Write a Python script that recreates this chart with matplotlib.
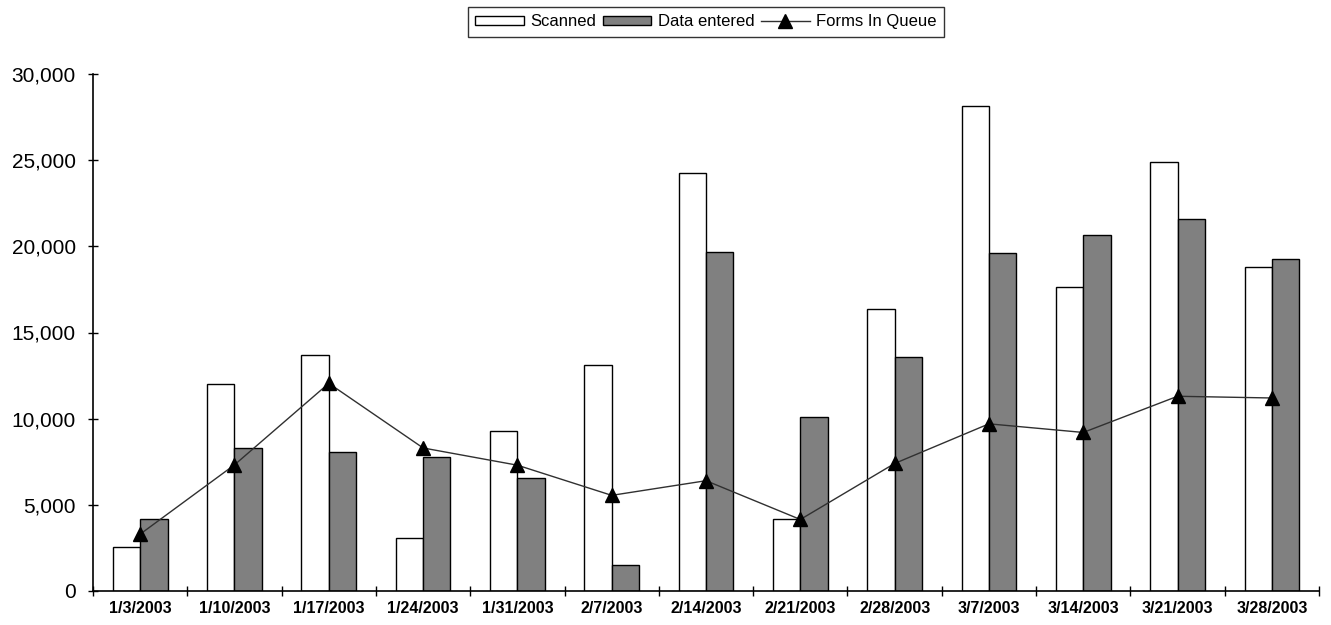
import matplotlib
matplotlib.use("Agg")
import matplotlib.pyplot as plt
import numpy as np
from matplotlib.ticker import FuncFormatter

plt.rcParams['font.family'] = ['Liberation Sans', 'DejaVu Sans']

weeks = ['1/3/2003', '1/10/2003', '1/17/2003', '1/24/2003', '1/31/2003', '2/7/2003',
         '2/14/2003', '2/21/2003', '2/28/2003', '3/7/2003', '3/14/2003', '3/21/2003',
         '3/28/2003']
scanned = [2550, 12000, 13700, 3050, 9300, 13100, 24250, 4180, 16350, 28150, 17650, 24900, 18800]
entered = [4150, 8300, 8050, 7800, 6550, 1520, 19650, 10100, 13550, 19600, 20650, 21600, 19250]
in_queue = [3300, 7320, 12050, 8300, 7300, 5550, 6400, 4150, 7400, 9700, 9200, 11300, 11200]

fig = plt.figure(figsize=(13.31, 6.25), dpi=100)
ax = fig.add_axes([0.0699, 0.0544, 0.9211, 0.8272])

x = np.arange(len(weeks))
w = 0.29
b1 = ax.bar(x - w, scanned, width=w, align='edge', color='white', edgecolor='black',
            linewidth=1.0, label='Scanned', zorder=2)
b2 = ax.bar(x, entered, width=w, align='edge', color='#808080', edgecolor='black',
            linewidth=1.0, label='Data entered', zorder=2)
ln, = ax.plot(x, in_queue, color='#303030', linewidth=1.0, marker='^', markersize=10,
              markerfacecolor='black', markeredgecolor='black', label='Forms In Queue', zorder=3)

ax.set_xlim(-0.5, len(weeks) - 0.5)
ax.set_ylim(0, 30000)
ax.set_yticks(np.arange(0, 30001, 5000))
ax.yaxis.set_major_formatter(FuncFormatter(lambda v, p: f'{int(v):,}'))

ax.set_xticks(x)
ax.set_xticklabels(weeks, fontsize=11.5, fontweight='bold')
ax.set_xticks(np.arange(-0.5, len(weeks), 1), minor=True)
ax.tick_params(axis='x', which='major', length=0, pad=7)
ax.tick_params(axis='x', which='minor', length=7, width=1, direction='inout')
ax.tick_params(axis='y', labelsize=15, length=7, width=1, direction='inout', pad=9)

for s in ['top', 'right']:
    ax.spines[s].set_visible(False)
for s in ['left', 'bottom']:
    ax.spines[s].set_linewidth(1.2)

leg = ax.legend([b1, b2, ln], ['Scanned', 'Data entered', 'Forms In Queue'],
                loc='upper center', bbox_to_anchor=(0.5, 1.13), borderaxespad=0,
                ncol=3, frameon=True, fancybox=False, edgecolor='black', fontsize=12,
                handlelength=2.9, handleheight=0.5, handletextpad=0.4, columnspacing=0.4,
                borderpad=0.45, numpoints=1)
leg.get_frame().set_linewidth(1.0)

fig.savefig('out.png', dpi=100)
